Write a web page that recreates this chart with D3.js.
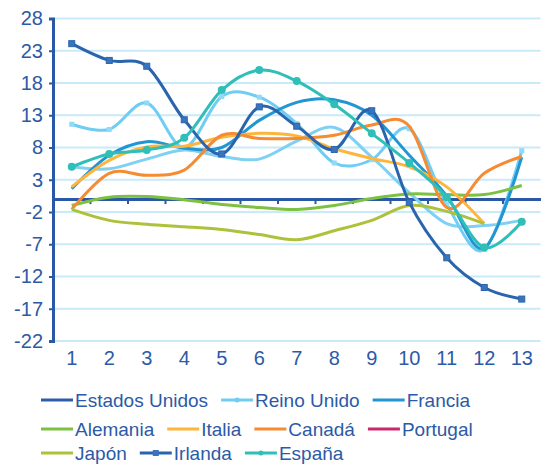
<!DOCTYPE html>
<html>
<head>
<meta charset="utf-8">
<script src="https://cdn.jsdelivr.net/npm/d3@7"></script>
<style>
  body { margin: 0; background: #fff; }
  text { font-family: "Liberation Sans", Arial, sans-serif; fill: #2c5aa6; }
</style>
</head>
<body>
<div id="chart"></div>
<script>
const MARGINS = {top: 18.5, bottom: 125, right: 9.5, left: 53};
const WIDTH = 550;
const HEIGHT = 466;

// categories and y ticks
const periods = [1, 2, 3, 4, 5, 6, 7, 8, 9, 10, 11, 12, 13];
const yTicks = [28, 23, 18, 13, 8, 3, -2, -7, -12, -17, -22];

// series values (null = no value)
const estadosUnidos = [null, null, null, null, null, null, null, null, null, null, null, null, null];
const reinoUnido = [11.6, 10.8, 14.9, 8.0, 15.9, 15.8, 11.7, 5.6, 6.1, 10.9, -0.8, -7.8, 7.5];
const francia = [1.6, 6.8, 8.9, 7.9, 8.0, 12.2, 15.0, 15.4, 13.0, 6.8, 0.5, -7.6, 6.5];
const alemania = [-1.0, 0.3, 0.4, -0.1, -0.85, -1.3, -1.6, -1.0, 0.1, 0.8, 0.7, 0.7, 2.1];
const italia = [1.9, 6.0, 8.1, 8.2, 9.6, 10.2, 9.8, 7.8, 6.3, 5.0, 1.9, -3.8, null];
const canada = [-1.6, 4.0, 3.7, 4.5, 9.9, 9.4, 9.4, 9.9, 11.5, 11.3, -1.3, 4.0, 6.6];
const portugal = [null, null, null, null, null, null, null, null, null, null, null, null, null];
const japon = [-1.6, -3.3, -3.9, -4.3, -4.7, -5.5, -6.3, -4.9, -3.3, -1.0, -1.9, -3.8, null];
const irlanda = [24.1, 21.5, 20.6, 12.3, 7.0, 14.3, 11.3, 7.7, 13.7, -0.5, -9.1, -13.7, -15.5];
const espana = [5.0, 7.0, 7.6, 9.5, 16.9, 20.0, 18.3, 14.7, 10.2, 5.6, 0.3, -7.5, -3.5];
// light blue line in the plot that has no legend entry
const sinLeyenda = [5.0, 4.7, 6.2, 7.6, 6.6, 6.2, 9.0, 11.1, 6.5, 1.0, -3.8, -4.1, -3.3];

const series = [
    {name: null, values: sinLeyenda, color: '#7fd0f3', marker: null},
    {name: 'Estados Unidos', values: estadosUnidos, color: '#2e5ca9', marker: null},
    {name: 'Reino Unido', values: reinoUnido, color: '#6fcdf4', marker: 'dot'},
    {name: 'Francia', values: francia, color: '#2196d3', marker: null},
    {name: 'Alemania', values: alemania, color: '#7cc142', marker: null},
    {name: 'Italia', values: italia, color: '#fdb53c', marker: null},
    {name: 'Canadá', values: canada, color: '#f58b33', marker: null},
    {name: 'Portugal', values: portugal, color: '#c8296a', marker: null},
    {name: 'Japón', values: japon, color: '#aec13a', marker: null},
    {name: 'Irlanda', values: irlanda, color: '#2a64ad', marker: 'square'},
    {name: 'España', values: espana, color: '#2fbfb8', marker: 'circle'}
];

// legend rows
const legendRows = [
    ['Estados Unidos', 'Reino Unido', 'Francia'],
    ['Alemania', 'Italia', 'Canadá', 'Portugal'],
    ['Japón', 'Irlanda', 'España']
];

const AXIS_BLUE = '#2b58a6';
const GRID = '#c9eaf8';

const svg = d3.select('#chart')
    .append('svg')
    .attr('width', WIDTH)
    .attr('height', HEIGHT);

const xScale = d3.scaleBand()
    .domain(periods)
    .range([MARGINS.left, WIDTH - MARGINS.right]);

const yScale = d3.scaleLinear()
    .domain([-22, 28])
    .range([HEIGHT - MARGINS.bottom, MARGINS.top]);

const xMid = d => xScale(d) + xScale.bandwidth() / 2;

// gridlines
svg.append('g')
    .selectAll('line')
    .data(yTicks)
    .enter()
    .append('line')
        .attr('x1', MARGINS.left)
        .attr('x2', WIDTH - MARGINS.right)
        .attr('y1', d => yScale(d))
        .attr('y2', d => yScale(d))
        .attr('stroke', GRID)
        .attr('stroke-width', 2);

// y axis (plain hyphen for negatives, like the original)
const leftAxis = d3.axisLeft(yScale)
    .tickValues(yTicks)
    .tickFormat(d => String(d))
    .tickSize(4)
    .tickPadding(6);

const yAxis = svg.append('g')
    .attr('transform', `translate(${MARGINS.left}, 0)`)
    .call(leftAxis);
yAxis.select('.domain').attr('stroke', AXIS_BLUE).attr('stroke-width', 3);
yAxis.selectAll('.tick line').attr('stroke', AXIS_BLUE).attr('stroke-width', 2);
yAxis.selectAll('.tick text')
    .attr('font-size', 20)
    .attr('font-family', '"Liberation Sans", Arial, sans-serif')
    .style('fill', '#2c5aa6');

// zero line with ticks between categories
const zeroAxis = d3.axisBottom(xScale).tickSize(0).tickFormat('');
const zero = svg.append('g')
    .attr('transform', `translate(0, ${yScale(0)})`)
    .call(zeroAxis);
zero.select('.domain').attr('stroke', AXIS_BLUE).attr('stroke-width', 3);
zero.selectAll('.tick').remove();
zero.selectAll('.sep')
    .data(periods.slice(1))
    .enter()
    .append('line')
        .attr('x1', d => xScale(d))
        .attr('x2', d => xScale(d))
        .attr('y1', 0)
        .attr('y2', 5)
        .attr('stroke', AXIS_BLUE)
        .attr('stroke-width', 2);

// category labels
svg.append('g')
    .selectAll('text')
    .data(periods)
    .enter()
    .append('text')
        .attr('x', d => xMid(d))
        .attr('y', HEIGHT - MARGINS.bottom + 24)
        .attr('text-anchor', 'middle')
        .attr('font-size', 20)
        .text(d => d);

// lines
const line = d3.line()
    .defined(d => d != null)
    .x((d, i) => xMid(periods[i]))
    .y(d => yScale(d))
    .curve(d3.curveCardinal.tension(0));

const lines = svg.append('g');
series.forEach(s => {
    lines.append('path')
        .datum(s.values)
        .attr('d', line)
        .attr('fill', 'none')
        .attr('stroke', s.color)
        .attr('stroke-width', 3)
        .attr('stroke-linejoin', 'round');

    const pts = s.values.map((v, i) => ({v: v, p: periods[i]})).filter(d => d.v != null);
    if (s.marker === 'square') {
        lines.selectAll(null)
            .data(pts)
            .enter()
            .append('rect')
                .attr('x', d => xMid(d.p) - 3)
                .attr('y', d => yScale(d.v) - 3)
                .attr('width', 6)
                .attr('height', 6)
                .attr('fill', '#3a74bd')
                .attr('stroke', s.color)
                .attr('stroke-width', 1);
    } else if (s.marker === 'circle') {
        lines.selectAll(null)
            .data(pts)
            .enter()
            .append('circle')
                .attr('cx', d => xMid(d.p))
                .attr('cy', d => yScale(d.v))
                .attr('r', 4)
                .attr('fill', s.color);
    } else if (s.marker === 'dot') {
        lines.selectAll(null)
            .data(pts)
            .enter()
            .append('rect')
                .attr('x', d => xMid(d.p) - 2.5)
                .attr('y', d => yScale(d.v) - 2.5)
                .attr('width', 5)
                .attr('height', 5)
                .attr('fill', '#8fdaf7');
    }
});

// legend
const legendY = [400, 429, 453];
const legend = svg.append('g');
legendRows.forEach((row, r) => {
    let x = 41;
    row.forEach(name => {
        const s = series.find(d => d.name === name);
        const item = legend.append('g').attr('transform', `translate(${x}, ${legendY[r]})`);
        item.append('line')
            .attr('x1', 0).attr('x2', 32)
            .attr('y1', 0).attr('y2', 0)
            .attr('stroke', s.color)
            .attr('stroke-width', 3);
        if (s.marker === 'square') {
            item.append('rect')
                .attr('x', 13).attr('y', -3).attr('width', 6).attr('height', 6)
                .attr('fill', '#3a74bd');
        } else if (s.marker) {
            item.append('circle')
                .attr('cx', 16).attr('cy', 0).attr('r', 2.5)
                .attr('fill', s.color);
        }
        const t = item.append('text')
            .attr('x', 34)
            .attr('y', 7)
            .attr('font-size', 19)
            .text(name);
        x += 34 + t.node().getComputedTextLength() + 13;
    });
});
</script>
</body>
</html>
